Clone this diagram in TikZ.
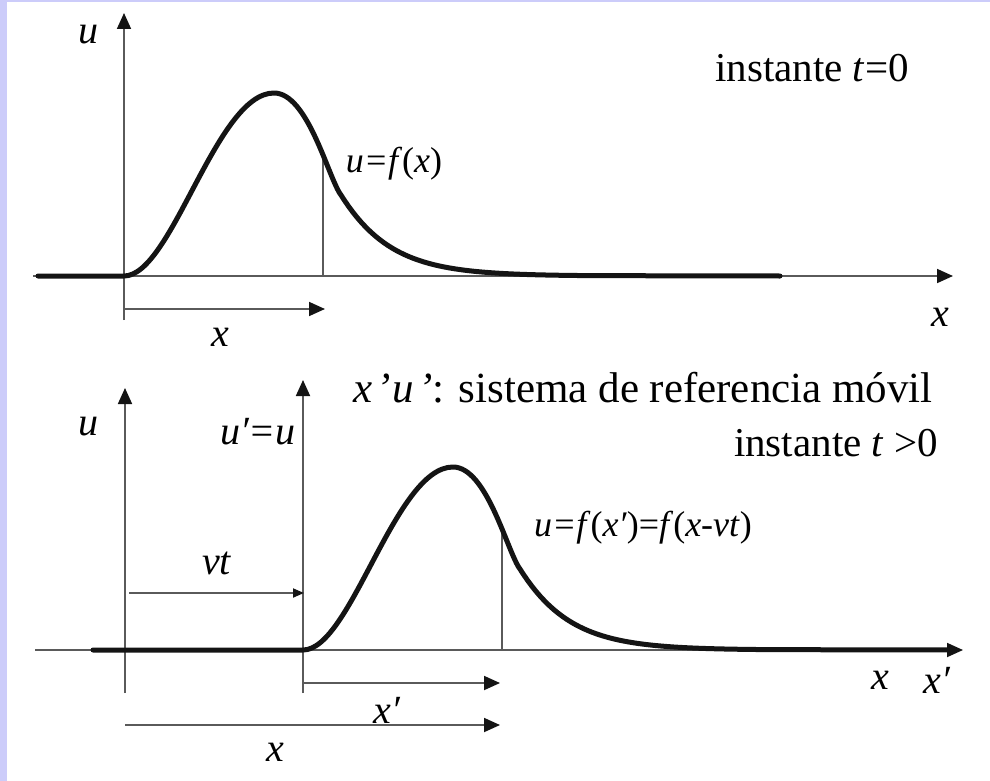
\documentclass[tikz,border=0pt]{standalone}
\usepackage{fontspec}
\setmainfont{Liberation Serif}[ItalicFont={Liberation Serif Italic}]
\usepackage{xcolor}
\usepackage{tikz}
\usetikzlibrary{arrows.meta,calc}
\definecolor{wvaxis}{HTML}{5A5A5A}
\definecolor{wvink}{HTML}{141414}
\definecolor{wvlav}{HTML}{CCCCFA}
\tikzset{
  axis/.style={draw=wvaxis, line width=0.9pt},
  ar/.style={axis, -{Triangle[length=8pt,width=7pt,color=wvink]}},
  arsm/.style={axis, -{Triangle[length=5.5pt,width=4.5pt,color=wvink]}},
  pulse/.style={draw=wvink, line width=2.5pt, line join=round, line cap=round},
  lbl/.style={font=\fontsize{20pt}{23pt}\selectfont, inner sep=0pt},
  frm/.style={font=\fontsize{18pt}{21pt}\selectfont, inner sep=0pt},
  tag/.style={font=\fontsize{20.5pt}{24pt}\selectfont, inner sep=0pt},
  ttl/.style={font=\fontsize{21.5pt}{25pt}\selectfont, inner sep=0pt},
}

\begin{document}
\begin{tikzpicture}[x=0.5pt,y=0.5pt]

% ---------- frame ----------
\fill[wvlav] (0,0) rectangle (990,-781);
\fill[white] (7,-2) rectangle (990,-781);
\useasboundingbox (0,0) rectangle (990,-781);

% ---------- panel 1: t = 0 ----------
\coordinate (o1) at (124,-276);
\coordinate (ub1) at (124,-320);
\coordinate (ut1) at (124,-13);
\coordinate (xl1) at (33,-276);
\coordinate (xr1) at (953,-276);
\coordinate (p1) at ($(o1)+(199,121)$);
\coordinate (ds1) at (124,-309);
\coordinate (de1) at (325,-309);

\draw[ar] (ub1) -- (ut1);
\draw[ar] (xl1) -- (xr1);
\draw[axis] (p1) -- (p1 |- o1);
\draw[ar] (ds1) -- (de1);
\draw[pulse,shift={(o1)}] (-86,0) -- (0,0)
  .. controls (48,0) and (92,183) .. (150,183)
  .. controls (183,183) and (203,103) .. (216,82.3)
  -- plot[domain=216:470,samples=60] (\x,{183/cosh((\x-150)/46)}) -- (656,0);

\node[lbl] (u1) at (88,-35) {\textit{u}};
\node[lbl] (x1) at (220,-337) {\textit{x}};
\node[lbl] (xa1) at (940,-317) {\textit{x}};
\node[frm] (f1) at (394,-164) {\textit{u=f}(\textit{x})};
\node[tag] (t1) at (812,-68) {instante \textit{t}=0};

% ---------- panel 2: t > 0 ----------
\node[ttl] (ttl) at (643,-388) {\textit{x\kern2pt’\kern1pt u\kern2pt’}: sistema de referencia móvil};

\coordinate (o2) at (303,-650);
\coordinate (ub2) at (125,-693);
\coordinate (ut2) at (125,-388);
\coordinate (ub3) at (303,-693);
\coordinate (ut3) at (303,-380);
\coordinate (xl2) at (35,-650);
\coordinate (xr2) at (963,-650);
\coordinate (p2) at ($(o2)+(199,121)$);
\coordinate (vs) at (129,-593);
\coordinate (ve) at (304,-593);
\coordinate (ds2) at (303,-683);
\coordinate (de2) at (500,-683);
\coordinate (ds3) at (125,-725);
\coordinate (de3) at (500,-725);

\draw[ar] (ub2) -- (ut2);
\draw[ar] (ub3) -- (ut3);
\draw[ar] (xl2) -- (xr2);
\draw[axis] (p2) -- (p2 |- o2);
\draw[arsm] (vs) -- (ve);
\draw[ar] (ds2) -- (de2);
\draw[ar] (ds3) -- (de3);
\draw[pulse,shift={(o2)}] (-210,0) -- (0,0)
  .. controls (48,0) and (92,183) .. (150,183)
  .. controls (183,183) and (203,103) .. (216,82.3)
  -- plot[domain=216:470,samples=60] (\x,{183/cosh((\x-150)/46)}) -- (652,0);

\node[lbl] (u2) at (88,-427) {\textit{u}};
\node[lbl] (u3) at (258,-432) {\textit{u′=u}};
\node[lbl] (vt) at (217,-563) {\textit{vt}};
\node[lbl] (x2) at (387,-710) {\textit{x′}};
\node[lbl] (x3) at (275,-752) {\textit{x}};
\node[lbl] (xa2) at (880,-680) {\textit{x}};
\node[lbl] (xa3) at (937,-680) {\textit{x′}};
\node[frm] (f2) at (643,-528) {\textit{u=f}(\textit{x′})=\textit{f}(\textit{x-vt})};
\node[tag] (t2) at (836,-443) {instante \textit{t} >0};
\end{tikzpicture}
\end{document}
